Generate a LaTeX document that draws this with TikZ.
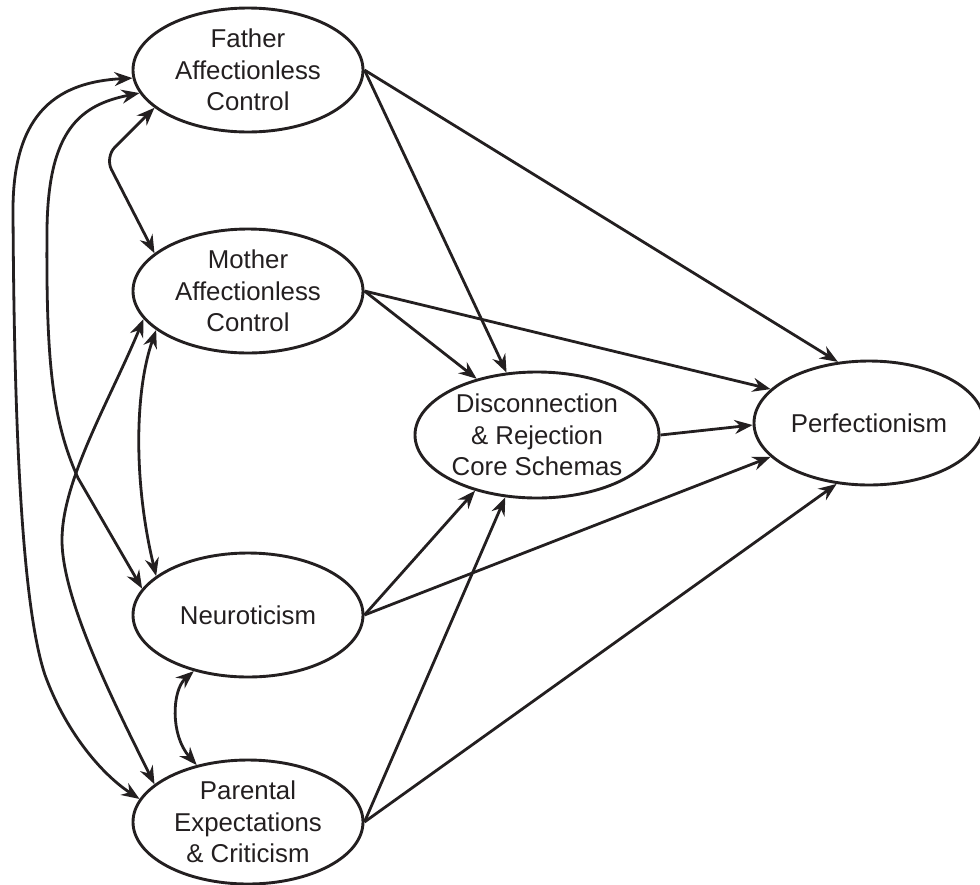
\documentclass[tikz,border=0pt]{standalone}
\usepackage{fontspec}
\setmainfont{Liberation Sans}
\usetikzlibrary{shapes.geometric,arrows.meta}
\definecolor{ink}{RGB}{35,31,32}
\begin{document}
\begin{tikzpicture}[x=1pt,y=-1pt,
  oval/.style={ellipse,draw=ink,line width=2.9pt,minimum width=230pt,minimum height=124pt,inner sep=0pt},
  lbl/.style={align=center,text=ink,font=\fontsize{25.8}{31.5}\selectfont,inner sep=0pt},
  tipc/.tip={Stealth[length=18pt,width=14pt,inset=6pt]},
  arr/.style={draw=ink,line width=2.8pt,-tipc},
  barr/.style={draw=ink,line width=2.8pt,tipc-tipc}]
\useasboundingbox (0,0) rectangle (980,884);
\clip (0,0) rectangle (980,884);
% ellipses
\node[oval] (F) at (248,70) {};
\node[oval] (M) at (248,291) {};
\node[oval] (N) at (248,615) {};
\node[oval] (P) at (248,822) {};
\node[oval,minimum width=244pt,minimum height=126pt] (D) at (537,435) {};
\node[oval] (R) at (869,423) {};
% labels
\node[lbl] (Ft) at (F) {Father\\Affectionless\\Control};
\node[lbl] (Mt) at (M) {Mother\\Affectionless\\Control};
\node[lbl] (Nt) at (N) {Neuroticism};
\node[lbl] (Pt) at (P) {Parental\\Expectations\\\& Criticism};
\node[lbl] (Dt) at (D) {Disconnection\\\& Rejection\\Core Schemas};
\node[lbl] (Rt) at (R) {Perfectionism};
% straight paths
\draw[arr] (F.east) -- (D.116);
\draw[arr] (F.east) -- (R.117);
\draw[arr] (M.east) -- (D.137);
\draw[arr] (M.east) -- (R.161);
\draw[arr] (D.east) -- (R.181);
\draw[arr] (N.east) -- (D.222);
\draw[arr] (N.east) -- (R.199);
\draw[arr] (P.east) -- (D.243);
\draw[arr] (P.east) -- (R.242);
% correlations
\draw[barr,rounded corners=14pt] (F.202) -- (105,157) -- (M.158);
\draw[barr] (F.192) .. controls (80,105) and (48,130) .. (47,230)
  .. controls (46,360) and (52,420) .. (78,478) -- (N.166);
\draw[barr] (F.184) .. controls (60,82) and (13,110) .. (13,210)
  .. controls (14,400) and (20,600) .. (45,675)
  .. controls (65,730) and (100,773) .. (P.168);
\draw[barr] (M.195) .. controls (110,400) and (62,480) .. (62,540)
  .. controls (62,600) and (115,705) .. (P.158);
\draw[barr] (M.203) .. controls (135,390) and (133,480) .. (N.157);
\draw[barr] (N.226) .. controls (172,690) and (170,735) .. (P.132);
\end{tikzpicture}
\end{document}
